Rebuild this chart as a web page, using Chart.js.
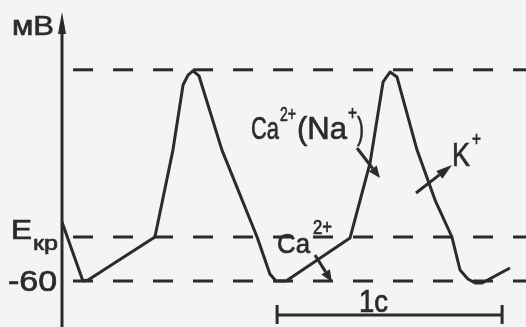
<!DOCTYPE html>
<html>
<head>
<meta charset="utf-8">
<script src="https://cdn.jsdelivr.net/npm/chart.js@4/dist/chart.umd.min.js"></script>
<style>
  body { margin: 0; background: #f4f4f4; }
  #wrap { width: 526px; height: 327px; }
</style>
</head>
<body>
<div id="wrap"><canvas id="chart"></canvas></div>
<script>
// pacemaker potential, time in seconds, membrane potential in mV
const timeS = [0, 0.093, 0.116, 0.413, 0.493, 0.538, 0.56, 0.582, 0.609, 0.711, 0.867, 0.924, 0.951, 0.996,
               1.28, 1.369, 1.427, 1.458, 1.489, 1.578, 1.658, 1.733, 1.769, 1.804, 1.836, 1.867, 1.991];
const membraneMv = [-33.2, -60, -59.5, -40, -0.5, 29.1, 33.6, 35.5, 33.2, -0.5, -40, -56.8, -60, -60,
                    -40.5, -6.4, 30.5, 35, 32.7, -0.5, -23.2, -40, -55, -59.1, -60.9, -60.9, -54.1];

// dashed reference levels: peak, threshold (Eкр), -60
const levelMv = [36, -40, -60];
const levelStartS = 0.049;
const levelEndS = 2.07;

const INK = '#2b2b2b';
const FONT = '"Liberation Sans", Arial, sans-serif';

// text squeezed or stretched to a given width, slightly emboldened
function fitText(ctx, str, left, baseline, size, width) {
  ctx.font = size + 'px ' + FONT;
  const w = ctx.measureText(str).width;
  ctx.save();
  ctx.translate(left, baseline);
  ctx.scale(width / w, 1);
  ctx.lineWidth = 0.7;
  ctx.strokeText(str, 0, 0);
  ctx.fillText(str, 0, 0);
  ctx.restore();
}

function arrow(ctx, x1, y1, x2, y2, len, half) {
  const a = Math.atan2(y2 - y1, x2 - x1);
  const bx = x2 - len * Math.cos(a), by = y2 - len * Math.sin(a);
  ctx.beginPath();
  ctx.moveTo(x1, y1);
  ctx.lineTo(bx, by);
  ctx.stroke();
  ctx.beginPath();
  ctx.moveTo(x2, y2);
  ctx.lineTo(bx + half * Math.sin(a), by - half * Math.cos(a));
  ctx.lineTo(bx - half * Math.sin(a), by + half * Math.cos(a));
  ctx.closePath();
  ctx.fill();
}

const decor = {
  id: 'decor',
  afterDatasetsDraw(chart) {
    const ctx = chart.ctx;
    const x = chart.scales.x, y = chart.scales.y;
    const x0 = x.getPixelForValue(0);
    ctx.save();
    ctx.strokeStyle = INK;
    ctx.fillStyle = INK;
    ctx.lineWidth = 3;
    ctx.lineCap = 'butt';

    // vertical axis with arrow
    arrow(ctx, x0, chart.height, x0, 12, 22, 4);

    // axis labels
    fitText(ctx, 'мВ', 12, 35, 27, 42);
    const yE = y.getPixelForValue(-40);
    fitText(ctx, 'E', 11, yE + 2, 27, 21);
    fitText(ctx, 'кр', 33, yE + 13, 21, 25);
    fitText(ctx, '-60', 8, y.getPixelForValue(-60) + 10, 29, 49);

    // ion currents
    fitText(ctx, 'Ca', 251, 139, 32, 28);
    fitText(ctx, '2+', 280, 121, 21, 16);
    fitText(ctx, '(Na', 297, 139, 32, 50);
    fitText(ctx, '+', 348, 120, 21, 9);
    fitText(ctx, ')', 357, 139, 32, 7);
    arrow(ctx, 357, 148, 380, 178, 12, 5);

    fitText(ctx, 'K', 452, 166, 34, 18);
    fitText(ctx, '+', 472, 146, 21, 9);
    arrow(ctx, 416, 193, 452, 165, 16, 5);

    fitText(ctx, 'Ca', 277, 253, 28, 33);
    fitText(ctx, '2+', 313, 234, 20, 19);
    arrow(ctx, 315, 255, 332, 282, 12, 5);

    // 1 s scale bar
    const bs = 0.956;
    const b1 = x.getPixelForValue(bs), b2 = x.getPixelForValue(bs + 1);
    ctx.beginPath();
    ctx.moveTo(b1, 315); ctx.lineTo(b2, 315);
    ctx.moveTo(b1, 305); ctx.lineTo(b1, 324);
    ctx.moveTo(b2, 305); ctx.lineTo(b2, 324);
    ctx.stroke();
    fitText(ctx, '1c', 359, 312, 31, 29);
    ctx.restore();
  }
};

const levelSets = levelMv.map(v => ({
  data: [{ x: levelStartS, y: v }, { x: levelEndS, y: v }],
  borderColor: INK,
  borderWidth: 3,
  borderDash: [20, 20],
  pointRadius: 0,
  showLine: true
}));

new Chart(document.getElementById('chart'), {
  type: 'scatter',
  data: {
    datasets: [
      {
        data: timeS.map((t, i) => ({ x: t, y: membraneMv[i] })),
        borderColor: INK,
        borderWidth: 3,
        borderJoinStyle: 'round',
        pointRadius: 0,
        showLine: true
      },
      ...levelSets
    ]
  },
  options: {
    responsive: true,
    maintainAspectRatio: false,
    animation: false,
    layout: { padding: { left: 62, top: 0, right: 0, bottom: 0 } },
    plugins: { legend: { display: false }, tooltip: { enabled: false } },
    scales: {
      x: { type: 'linear', display: false, min: 0, max: 2.0622 },
      y: { type: 'linear', display: false, min: -80.91, max: 67.73 }
    }
  },
  plugins: [decor]
});
</script>
</body>
</html>
